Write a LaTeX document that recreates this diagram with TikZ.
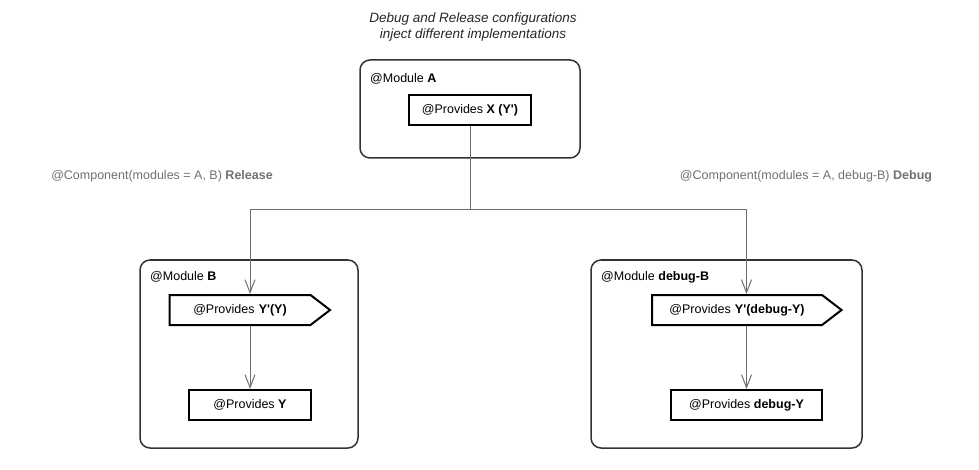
\documentclass[tikz,border=0pt]{standalone}
\usepackage{fontspec}
\setmainfont{Liberation Sans}
\usetikzlibrary{shapes.symbols,arrows.meta}
\definecolor{linegray}{HTML}{6E6E6E}
\definecolor{labelgray}{HTML}{707070}
\definecolor{boxline}{HTML}{333333}
\newcommand{\tick}{\textquotesingle}

\begin{document}
\begin{tikzpicture}[x=1pt,y=-1pt]
\tikzstyle{every node}=[font=\fontsize{12.5}{15}\selectfont, inner sep=0pt];
\tikzstyle{module}=[draw=boxline, line width=1.5pt, rounded corners=10pt];
\tikzstyle{modtitle}=[anchor=west];
\tikzstyle{provides}=[draw=black, line width=2pt, minimum height=30pt];
\tikzstyle{binds}=[provides, shape=signal, signal to=east, signal pointer angle=75, text width=125pt, align=center, inner xsep=8pt];
\tikzstyle{conn}=[draw=linegray, line width=1pt];
\tikzstyle{inject}=[conn, -{Straight Barb[length=13pt,width=10pt]}];
\tikzstyle{config}=[text=labelgray];
\useasboundingbox (0,0) rectangle (979,470);

\node[align=center, font=\fontsize{13.5}{15.5}\selectfont\itshape, text=black!85] (title) at (473,27)
  {Debug and Release configurations\\inject different implementations};

\node[module, minimum width=220pt, minimum height=98pt] (moda) at (470,109) {};
\node[modtitle] (moda-t) at (370,79) {@Module \textbf{A}};
\node[provides, minimum width=122pt] (pxa) at (470,110) {@Provides \textbf{X (Y\tick)}};

\node[config] (release) at (162,176) {@Component(modules = A, B) \textbf{Release}};
\node[config] (debug) at (806,176) {@Component(modules = A, debug-B) \textbf{Debug}};

\node[module, minimum width=218pt, minimum height=188pt] (modb) at (249,354) {};
\node[modtitle] (modb-t) at (150,277) {@Module \textbf{B}};
\node[binds] (pyb) at (240,310) {@Provides \textbf{Y\tick(Y)}};
\node[provides, minimum width=122pt] (py) at (250,405) {@Provides \textbf{Y}};

\node[module, minimum width=271pt, minimum height=188pt] (moddb) at (726.5,354) {};
\node[modtitle] (moddb-t) at (601,277) {@Module \textbf{debug-B}};
\node[binds, text width=154pt] (pydb) at (737,310) {@Provides \textbf{Y\tick(debug-Y)}};
\node[provides, minimum width=151pt] (pdy) at (746.5,405) {@Provides \textbf{debug-Y}};

\coordinate (split) at (470,210);
\draw[conn] (pxa.south) -- (split);
\draw[inject] (split) -| (py.north |- pyb.north);
\draw[inject] (split) -| (pdy.north |- pydb.north);
\draw[inject] (py.north |- pyb.south) -- (py.north);
\draw[inject] (pdy.north |- pydb.south) -- (pdy.north);
\end{tikzpicture}
\end{document}
